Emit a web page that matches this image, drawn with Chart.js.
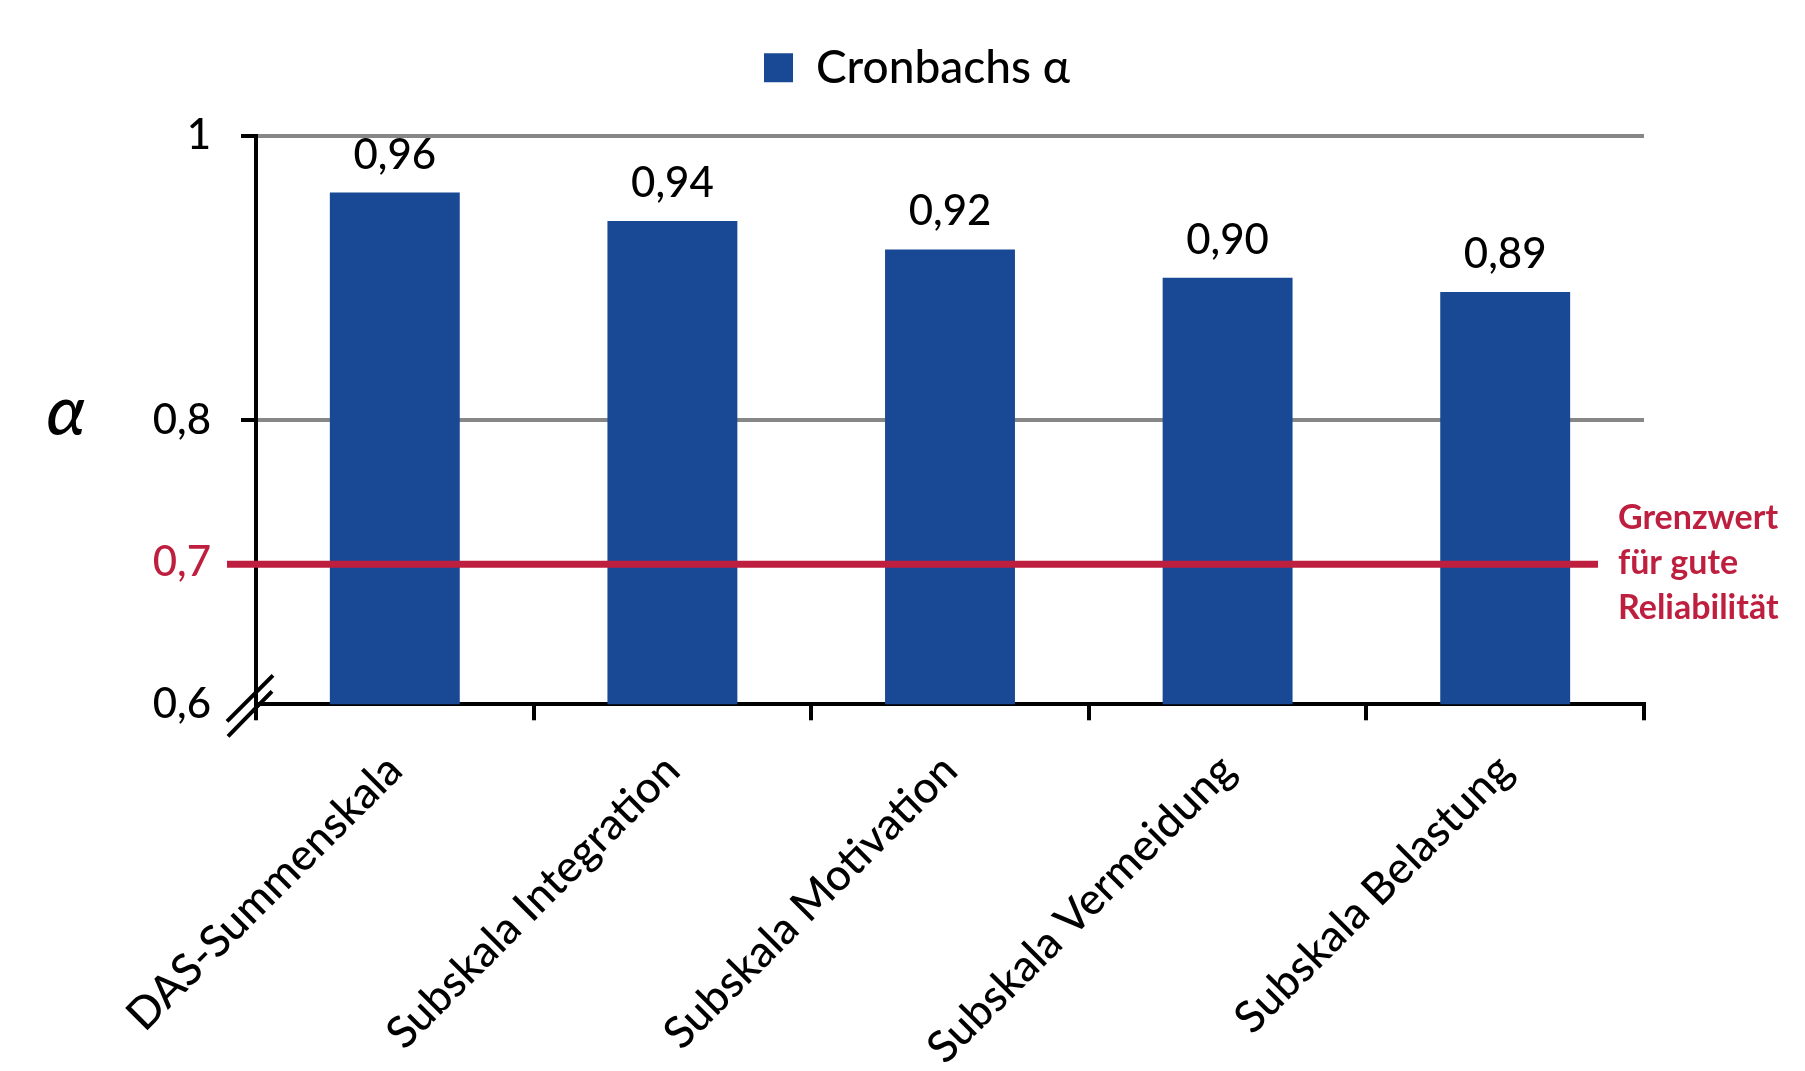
<!DOCTYPE html>
<html>
<head>
<meta charset="utf-8">
<script src="https://cdn.jsdelivr.net/npm/chart.js@4/dist/chart.umd.min.js"></script>
<style>
  html, body { margin: 0; padding: 0; background: #ffffff; }
  #c { display: block; }
</style>
</head>
<body>
<canvas id="c" width="1805" height="1071"></canvas>
<script>
// Reliability (Cronbach's alpha) of the DAS total scale and its subscales
const categories = ['DAS-Summenskala', 'Subskala Integration', 'Subskala Motivation', 'Subskala Vermeidung', 'Subskala Belastung'];
const alphaValues = [0.96, 0.94, 0.92, 0.90, 0.89];
const yTickValues = [0.6, 0.7, 0.8, 1.0];
const yRange = [0.6, 1.0];
const thresholdValue = 0.7;
const seriesLabel = 'Cronbachs α';
const thresholdNote = ['Grenzwert', 'für gute', 'Reliabilität'];
const axisSymbol = 'α';

const FONT = 'Lato, "Open Sans", "DejaVu Sans", sans-serif';
const WEIGHT = '500';
const BAR_BLUE = '#194994';
const GRID_GREY = '#878787';
const THRESH_RED = '#bf1f3e';

const fmt = v => Number(v).toFixed(2).replace('.', ',');
const fmtTick = v => (Math.round(v * 10) / 10 === 1 ? '1' : String(Math.round(v * 10) / 10).replace('.', ','));
const isGridTick = v => Math.abs(v - 0.8) < 1e-6 || Math.abs(v - 1) < 1e-6;

// Extra drawing: threshold line, axis break, value labels, note and axis symbol
const annotations = {
  id: 'annotations',
  afterLayout(chart) {
    // position the legend above the plot, centred over the bars
    const lg = chart.legend;
    if (lg) {
      lg.left += 95; lg.right += 95;
      lg.top -= 35; lg.bottom -= 35;
    }
  },
  afterDatasetsDraw(chart) {
    const { ctx, chartArea: a, scales: { y } } = chart;
    const L = a.left, B = a.bottom;
    ctx.save();

    // threshold line
    const yt = y.getPixelForValue(thresholdValue);
    ctx.strokeStyle = THRESH_RED;
    ctx.lineWidth = 7;
    ctx.beginPath();
    ctx.moveTo(L - 29, yt + 2);
    ctx.lineTo(a.right - 46, yt + 2);
    ctx.stroke();

    // axis break marks
    ctx.strokeStyle = '#000';
    ctx.lineWidth = 4;
    ctx.beginPath();
    ctx.moveTo(L - 29, B + 17); ctx.lineTo(L + 17, B - 29);
    ctx.moveTo(L - 28, B + 32); ctx.lineTo(L + 16, B - 13);
    ctx.stroke();

    // value labels above the bars
    const meta = chart.getDatasetMeta(0);
    ctx.fillStyle = '#000';
    ctx.font = WEIGHT + ' 42px ' + FONT;
    ctx.textAlign = 'center';
    ctx.textBaseline = 'alphabetic';
    meta.data.forEach((bar, i) => {
      ctx.fillText(fmt(alphaValues[i]), bar.x, bar.y - 24);
    });

    // note next to the threshold line
    ctx.fillStyle = THRESH_RED;
    ctx.font = 'bold 34px ' + FONT;
    ctx.textAlign = 'left';
    thresholdNote.forEach((t, i) => {
      ctx.fillText(t, a.right - 26, yt - 33 + i * 45);
    });

    // axis symbol
    ctx.fillStyle = '#000';
    ctx.font = 'italic ' + WEIGHT + ' 70px ' + FONT;
    ctx.textAlign = 'center';
    ctx.textBaseline = 'middle';
    ctx.fillText(axisSymbol, 66, (a.top + a.bottom) / 2 - 8);
    ctx.restore();
  }
};

new Chart(document.getElementById('c'), {
  type: 'bar',
  data: {
    labels: categories,
    datasets: [{
      label: seriesLabel,
      data: alphaValues,
      backgroundColor: BAR_BLUE,
      borderWidth: 0,
      categoryPercentage: 1.0,
      barPercentage: 0.468
    }]
  },
  options: {
    responsive: false,
    animation: false,
    devicePixelRatio: 1,
    layout: { padding: { top: 69.7, right: 161, bottom: 0, left: 0 } },
    plugins: {
      legend: {
        position: 'top',
        labels: {
          color: '#000',
          font: { family: FONT, size: 46, weight: WEIGHT },
          boxWidth: 29,
          boxHeight: 29,
          padding: 10
        }
      },
      tooltip: { enabled: false }
    },
    scales: {
      x: {
        offset: true,
        grid: {
          offset: true,
          drawOnChartArea: false,
          drawTicks: true,
          tickLength: 16,
          tickWidth: 4,
          tickColor: '#000',
          color: '#000',
          lineWidth: 4
        },
        border: { display: true, color: '#000', width: 4 },
        ticks: {
          color: '#000',
          font: { family: FONT, size: 44, weight: WEIGHT },
          minRotation: 45,
          maxRotation: 45,
          autoSkip: false,
          padding: 24
        },
        afterFit(scale) { scale.height = 366.7; }
      },
      y: {
        min: yRange[0],
        max: yRange[1],
        afterBuildTicks(scale) { scale.ticks = yTickValues.map(v => ({ value: v })); },
        grid: {
          color: c => (c.tick && isGridTick(c.tick.value) ? GRID_GREY : 'rgba(0,0,0,0)'),
          tickColor: c => (c.tick && isGridTick(c.tick.value) ? '#000' : 'rgba(0,0,0,0)'),
          lineWidth: 4,
          tickWidth: 4,
          tickLength: 15
        },
        border: { display: true, color: '#000', width: 4 },
        ticks: {
          callback: v => fmtTick(v),
          color: c => (c.tick && Math.abs(c.tick.value - thresholdValue) < 1e-6 ? THRESH_RED : '#000'),
          font: { family: FONT, size: 42, weight: WEIGHT },
          padding: 30
        },
        afterFit(scale) { scale.width = 256; }
      }
    }
  },
  plugins: [annotations]
});
</script>
</body>
</html>
